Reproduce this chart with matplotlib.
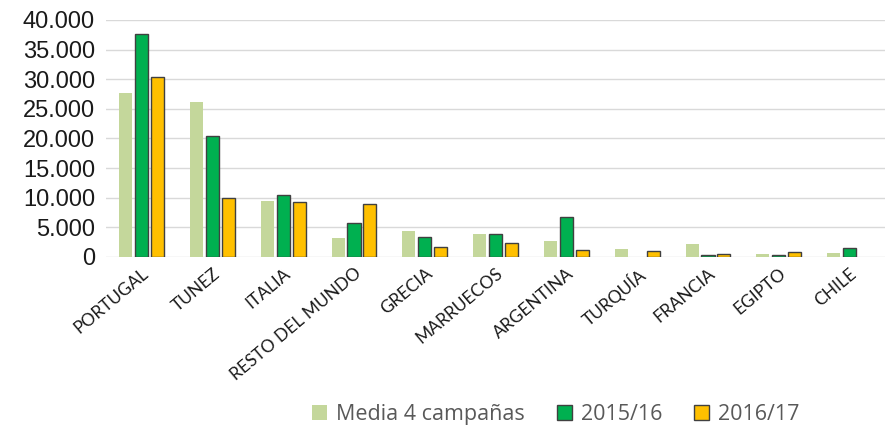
import numpy as np
import matplotlib.pyplot as plt
from matplotlib.patches import Patch

paises = ["PORTUGAL", "TUNEZ", "ITALIA", "RESTO DEL MUNDO", "GRECIA", "MARRUECOS",
          "ARGENTINA", "TURQUÍA", "FRANCIA", "EGIPTO", "CHILE"]
media_4 = [27700, 26100, 9450, 3200, 4300, 3900, 2650, 1400, 2100, 570, 680]
# sin dato -> nan (no se dibuja barra)
c2015_16 = [37700, 20400, 10500, 5800, 3400, 3850, 6750, np.nan, 400, 400, 1500]
c2016_17 = [30300, 9900, 9300, 8850, 1750, 2300, 1100, 960, 570, 800, np.nan]
yticks = [0, 5000, 10000, 15000, 20000, 25000, 30000, 35000, 40000]

c_media = "#c4d79b"
c_15 = "#00b050"
c_16 = "#ffc000"
borde = "#404040"

fig = plt.figure(figsize=(8.85, 4.34), dpi=100)
ax = fig.add_axes([0.12, 0.408, 0.88, 0.546])

x = np.arange(len(paises))
w = 0.185
off = 0.225
ax.bar(x - off, media_4, w, color=c_media, edgecolor="none", zorder=3)
ax.bar(x, c2015_16, w, color=c_15, edgecolor=borde, linewidth=1, zorder=3)
ax.bar(x + off, c2016_17, w, color=c_16, edgecolor=borde, linewidth=1, zorder=3)

ax.set_xlim(-0.5, len(paises) - 0.5)
ax.set_ylim(0, 40000)
ax.set_yticks(yticks)
ax.set_yticklabels([f"{v:,}".replace(",", ".") for v in yticks],
                   fontsize=17, family="Liberation Sans", color="#1a1a1a")
ax.set_xticks(x)
ax.set_xticklabels(paises, rotation=40, ha="right", rotation_mode="anchor",
                   fontsize=12.5, family="Lato", color="#1a1a1a")
ax.tick_params(axis="both", length=0)
ax.tick_params(axis="x", pad=6)
ax.tick_params(axis="y", pad=8)
ax.grid(axis="y", color="#d9d9d9", linewidth=1, zorder=0)
for s in ax.spines.values():
    s.set_visible(False)

handles = [Patch(facecolor=c_media, edgecolor="none"),
           Patch(facecolor=c_15, edgecolor=borde, linewidth=1),
           Patch(facecolor=c_16, edgecolor=borde, linewidth=1)]
fig.legend(handles, ["Media 4 campañas", "2015/16", "2016/17"],
           loc="center", bbox_to_anchor=(0.628, 0.045), ncol=3, frameon=False,
           prop={"family": "Open Sans", "size": 15.5}, labelcolor="#595959",
           handlelength=0.7, handleheight=0.7, handletextpad=0.4, columnspacing=1.5)

fig.savefig("out.png", dpi=100)
